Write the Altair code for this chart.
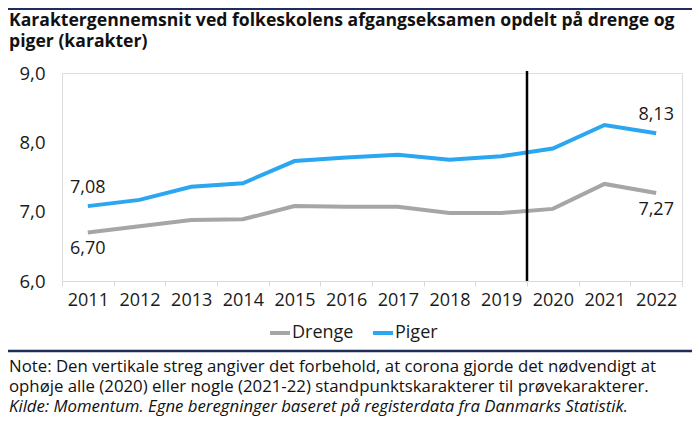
import altair as alt
import pandas as pd

FONT = "Open Sans"

years = [str(y) for y in range(2011, 2023)]
drenge = [6.70, 6.79, 6.88, 6.89, 7.08, 7.07, 7.07, 6.98, 6.98, 7.04, 7.40, 7.27]
piger = [7.08, 7.17, 7.36, 7.41, 7.73, 7.78, 7.82, 7.75, 7.80, 7.91, 8.25, 8.13]
series = ["Drenge", "Piger"]
colors = ["#A6A6A6", "#2BA6F0"]
y_ticks = [6, 7, 8, 9]
break_year = "2020"
label_years = ["2011", "2022"]

title_lines = [
    "Karaktergennemsnit ved folkeskolens afgangseksamen opdelt på drenge og",
    "piger (karakter)",
]
note_lines = [
    "Note: Den vertikale streg angiver det forbehold, at corona gjorde det nødvendigt at",
    "ophøje alle (2020) eller nogle (2021-22) standpunktskarakterer til prøvekarakterer.",
]
source_line = "Kilde: Momentum. Egne beregninger baseret på registerdata fra Danmarks Statistik."

df = pd.DataFrame({
    "year": years * 2,
    "value": drenge + piger,
    "series": [series[0]] * len(years) + [series[1]] * len(years),
})

W, H = 620, 208
TXT = "#1a1a1a"

x_axis = alt.Axis(
    title=None, labelAngle=0, tickBand="extent", domainColor="#D9D9D9",
    tickColor="#D9D9D9", tickSize=5, labelFontSize=18, labelColor=TXT,
    labelPadding=5, grid=False, labelFont=FONT,
)
x_scale = alt.Scale(type="band", paddingInner=0, paddingOuter=0)


def xenc(bp):
    return alt.X("year:O", scale=x_scale, axis=x_axis, bandPosition=bp)


y_enc = alt.Y(
    "value:Q",
    scale=alt.Scale(domain=[6, 9], nice=False, zero=False),
    axis=alt.Axis(
        values=y_ticks, title=None, domain=False, ticks=False, grid=False,
        labelExpr="replace(format(datum.value, '.1f'), '.', ',')",
        labelFontSize=18.5, labelPadding=17, labelColor=TXT, labelFont=FONT,
    ),
)

lines = alt.Chart(df).mark_line(strokeWidth=4).encode(
    x=xenc(0.5),
    y=y_enc,
    color=alt.Color(
        "series:N",
        scale=alt.Scale(domain=series, range=colors),
        legend=alt.Legend(
            title=None, orient="none", legendX=206, legendY=248,
            direction="horizontal", symbolType="stroke", symbolStrokeWidth=4,
            symbolSize=400, labelFontSize=18, labelOffset=0, columnPadding=11,
            labelFont=FONT, labelColor=TXT,
        ),
    ),
)

rule = alt.Chart(pd.DataFrame({"year": [break_year]})).mark_rule(
    color="black", strokeWidth=2.5
).encode(x=xenc(0), y=alt.value(-2), y2=alt.value(H))

lab_base = alt.Chart(df).transform_filter(
    alt.FieldOneOfPredicate(field="year", oneOf=label_years)
).transform_calculate(
    lab="replace(format(datum.value, '.2f'), '.', ',')"
)

lab_up = lab_base.transform_filter(alt.datum.series == "Piger").mark_text(
    font=FONT, fontSize=18, dy=-18, color=TXT
).encode(x=xenc(0.5), y=y_enc, text="lab:N")

lab_down = lab_base.transform_filter(alt.datum.series == "Drenge").mark_text(
    font=FONT, fontSize=18, dy=17, color=TXT
).encode(x=xenc(0.5), y=y_enc, text="lab:N")

one = pd.DataFrame({"k": [0]})

title = alt.Chart(pd.DataFrame({"t": [title_lines]})).mark_text(
    font=FONT, fontSize=17.6, fontWeight="bold", align="left", baseline="alphabetic",
    lineHeight=21.6, color="#111111"
).encode(text="t", x=alt.value(-53), y=alt.value(-47.3))

notes = alt.Chart(pd.DataFrame({"t": [note_lines]})).mark_text(
    font=FONT, fontSize=16.8, align="left", baseline="alphabetic", lineHeight=20.2,
    color="#111111"
).encode(text="t", x=alt.value(-53), y=alt.value(298.5))

source = alt.Chart(pd.DataFrame({"t": [source_line]})).mark_text(
    font=FONT, fontSize=16.8, fontStyle="italic", align="left", baseline="alphabetic",
    color="#111111"
).encode(text="t", x=alt.value(-53), y=alt.value(338.9))

top_rule = alt.Chart(one).mark_rule(color="#1F2D5A", strokeWidth=2).encode(
    x=alt.value(-54), x2=alt.value(W + 10), y=alt.value(-64)
)
bot_rule = alt.Chart(one).mark_rule(color="#1F2D5A", strokeWidth=2.5).encode(
    x=alt.value(-54), x2=alt.value(W + 10), y=alt.value(278)
)

chart = alt.layer(
    top_rule, bot_rule, title, notes, source, lines, rule, lab_up, lab_down
).properties(
    width=W, height=H,
    autosize=alt.AutoSizeParams(type="none"),
    padding={"left": 54, "top": 65, "right": 10, "bottom": 135},
).configure_view(stroke=None).configure(font=FONT)

chart.save("out.html", embed_options={"renderer": "svg", "actions": False})
